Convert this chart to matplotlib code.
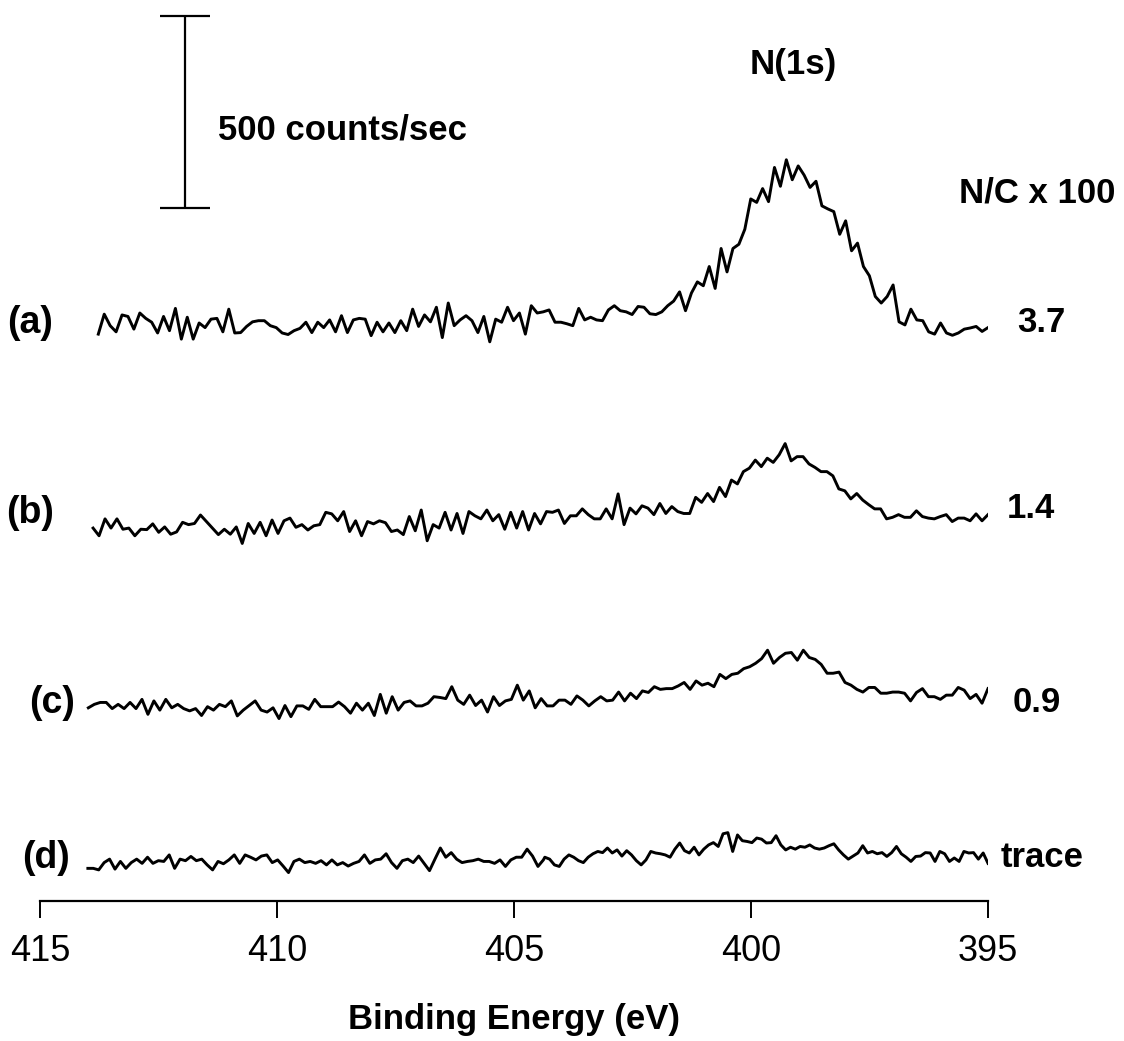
import matplotlib.pyplot as plt
import numpy as np

plt.rcParams['font.family'] = ['Liberation Sans', 'DejaVu Sans']

# N(1s) region, counts/sec above each spectrum's own baseline
a_counts = [26, 78, 48, 32, 76, 72, 39, 81, 67, 57, 29, 72, 35, 93, 13, 70, 13, 55, 43, 65,
            67, 32, 91, 29, 30, 46, 58, 61, 61, 48, 43, 29, 25, 35, 41, 57, 30, 57, 43, 63,
            32, 74, 30, 63, 67, 65, 22, 57, 32, 55, 30, 61, 35, 91, 46, 76, 58, 96, 17, 107,
            48, 63, 74, 61, 30, 72, 6, 65, 57, 96, 61, 81, 26, 100, 81, 84,
            89, 57, 57, 53, 48, 93, 63, 70, 63, 61, 89, 100, 87, 84, 77, 98, 96, 79, 77, 84,
            100, 112, 136, 87, 133, 162, 152, 202, 145, 249, 188, 249, 260, 299, 378, 369, 405, 371, 460, 411,
            480, 428, 464, 440, 408, 424, 360, 352, 345, 286, 321, 243, 263, 202, 178, 124, 107, 124, 154, 58,
            50, 91, 63, 61, 32, 26, 55, 29, 23, 29, 39, 42, 46, 33, 43]
b_counts = [46, 26, 70, 46, 70, 43, 46, 26, 43, 42, 57, 35, 49, 30, 36, 61, 55, 58, 80, 63,
            46, 29, 43, 30, 49, 6, 58, 32, 61, 26, 67, 32, 65, 72, 48, 55, 41, 52, 55, 87,
            83, 65, 89, 37, 65, 26, 63, 57, 65, 60, 37, 41, 29, 76, 39, 93, 13, 55, 46, 87,
            41, 84, 32, 89, 78, 70, 93, 65, 81, 43, 87, 46, 89, 41, 84, 57, 89,
            87, 93, 58, 78, 78, 96, 81, 70, 70, 96, 70, 135, 55, 98, 83, 104, 98, 81, 110, 84,
            102, 89, 84, 84, 126, 113, 136, 115, 152, 128, 171, 161, 193, 202, 223, 206, 228, 217, 237, 266,
            221, 232, 232, 213, 204, 193, 193, 182, 148, 143, 122, 136, 119, 107, 96, 96, 70, 74, 81, 74,
            74, 91, 76, 72, 70, 76, 81, 63, 72, 72, 65, 83, 65, 81]
c_counts = [43, 52, 57, 57, 41, 52, 41, 57, 41, 65, 26, 61, 37, 65, 43, 52, 41, 35, 41, 23,
            46, 37, 52, 46, 61, 22, 37, 49, 61, 37, 32, 43, 15, 49, 20, 48, 48, 39, 65, 46,
            46, 46, 58, 46, 29, 55, 37, 55, 23, 78, 29, 72, 37, 57, 61, 48, 48, 55, 72, 70,
            67, 98, 63, 52, 76, 49, 63, 32, 72, 49, 61, 65, 102, 63, 87, 43, 67, 48,
            48, 63, 63, 52, 74, 63, 48, 61, 72, 61, 63, 84, 61, 81, 67, 87, 83, 98, 91, 93,
            93, 100, 109, 91, 113, 102, 107, 98, 130, 119, 130, 133, 145, 150, 159, 171, 193, 159, 174, 185,
            187, 167, 193, 174, 169, 156, 133, 133, 136, 109, 102, 91, 84, 96, 96, 81, 81, 84, 84, 81,
            61, 83, 93, 72, 72, 65, 76, 76, 96, 89, 67, 78, 55, 93]
# (d) was recorded with a finer step on the low-energy side
d_counts_hi = [30, 30, 26, 45, 54, 28, 48, 30, 45, 54, 43, 59, 43, 50, 48, 65, 30, 54, 50, 61,
               50, 54, 39, 26, 48, 42, 52, 65, 43, 65, 59, 52, 62, 65, 45, 52, 36, 19, 48, 54,
               45, 48, 43, 50, 39, 52, 39, 45, 36, 43, 48, 65, 43, 52, 54, 68, 45, 30, 50, 54,
               45, 62, 43, 24, 54, 83, 59, 71, 54, 45, 48, 50, 54, 48, 48, 43, 52, 35, 52, 59,
               59, 80, 62, 35, 52]
d_counts_lo = [59, 54, 39, 35, 54, 65, 59, 50, 45, 59, 68, 74, 71, 83, 70, 78, 62, 76, 65, 50,
               39, 52, 74, 70, 68, 65, 59, 80, 96, 76, 70, 85, 65, 80, 91, 97, 87, 120, 123, 74,
               117, 102, 100, 97, 109, 106, 96, 97, 115, 91, 78, 85, 80, 87, 85, 91, 83, 80, 83, 89,
               94, 78, 65, 54, 62, 70, 89, 70, 74, 68, 71, 61, 71, 87, 68, 59, 48, 61, 62, 71,
               70, 48, 74, 68, 48, 57, 48, 74, 70, 71, 54, 70, 43]

sample_labels = ['(a)', '(b)', '(c)', '(d)']
nc_ratio = ['3.7', '1.4', '0.9', 'trace']
energy_ticks = [415, 410, 405, 400, 395]

# binding energy scans (eV)
a_energy = np.linspace(413.77, 395.0, len(a_counts))
b_energy = np.linspace(413.88, 395.0, len(b_counts))
c_energy = np.linspace(413.98, 395.0, len(c_counts))
d_energy = np.concatenate([np.linspace(413.99, 404.38, len(d_counts_hi)),
                           np.linspace(404.35, 395.0, len(d_counts_lo))])

spectra = [(a_energy, a_counts), (b_energy, b_counts),
           (c_energy, c_counts), (d_energy, d_counts_hi + d_counts_lo)]

# vertical stacking of the spectra, counts/sec
offsets = [1450, 925, 460, 55]
left_x = [415.2, 415.2, 414.75, 414.87]
right_x = [393.88, 394.09, 393.97, 393.86]
left_dy = [55, 85, 56, 57]
right_dy = [55, 98, 56, 57]

fig = plt.figure(figsize=(11.24, 10.41), dpi=100)
ax = fig.add_axes([40 / 1124, 140 / 1041, 948 / 1124, 901 / 1041])

for (e, counts), off in zip(spectra, offsets):
    ax.plot(e, np.array(counts) + off, color='black', lw=2.1)

bold = dict(fontsize=25, fontweight='bold', ha='center', va='center')
for i in range(4):
    ax.text(left_x[i], offsets[i] + left_dy[i], sample_labels[i],
            fontsize=27, fontweight='bold', ha='center', va='center')
    ax.text(right_x[i], offsets[i] + right_dy[i], nc_ratio[i], **bold)

ax.text(399.11, 2177, 'N(1s)', **bold)
ax.text(393.97, 1844, 'N/C x 100', **bold)

# 500 counts/sec scale bar
ax.errorbar([411.94], [2055], yerr=[250], color='black', capsize=18,
            elinewidth=1.6, capthick=1.6, clip_on=False)
ax.text(411.24, 2008, '500 counts/sec', fontsize=25, fontweight='bold',
        ha='left', va='center')

ax.set_xlim(415, 395)
ax.set_ylim(0, 2346)
ax.set_xticks(energy_ticks)
ax.set_yticks([])
for side in ['left', 'right', 'top']:
    ax.spines[side].set_visible(False)
ax.spines['bottom'].set_linewidth(1.6)
ax.tick_params(axis='x', direction='out', length=12, width=1.4, pad=12, labelsize=26)
ax.patch.set_alpha(0)

fig.text(514 / 1124, 1 - 1019 / 1041, 'Binding Energy (eV)', fontsize=25,
         fontweight='bold', ha='center', va='center')

fig.savefig('out.png', dpi=100)
